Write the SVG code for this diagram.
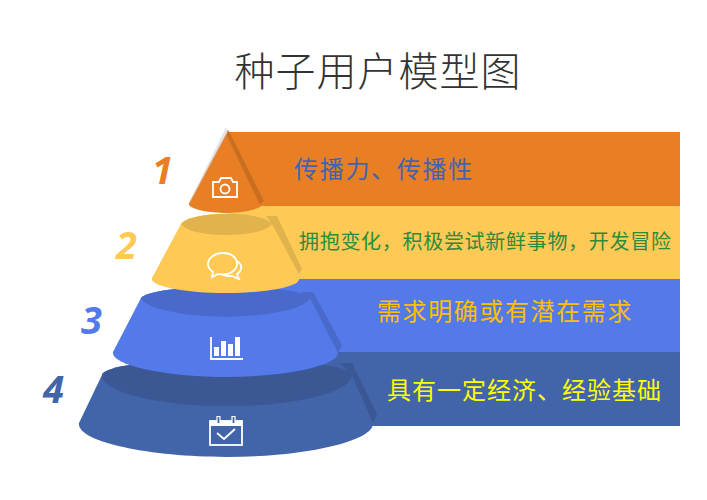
<svg xmlns="http://www.w3.org/2000/svg" width="707" height="500" viewBox="0 0 707 500">
<style>
.cjk{font-family:"Noto Sans CJK SC","Liberation Sans",sans-serif;font-weight:400}
.num{font-family:"Open Sans","Liberation Sans",sans-serif;font-weight:700;font-style:italic;font-size:38px}
.ic{fill:none;stroke:#fff;stroke-width:1.8}
</style>
<rect width="707" height="500" fill="#fff"/>
<text class="cjk" x="378" y="86" text-anchor="middle" font-size="40" letter-spacing="1" style="font-weight:300" fill="#333">种子用户模型图</text>
<g id="band-1"><rect x="228" y="132" width="452" height="74" fill="#E97F24"/><text class="cjk" x="294" y="178" font-size="24" letter-spacing="1.7" fill="#4264B0">传播力、传播性</text></g>
<g id="band-2"><rect x="228" y="206" width="452" height="73" fill="#FEC955"/><text class="cjk" x="299" y="249" font-size="20" letter-spacing=".7" fill="#2E8B3A">拥抱变化，积极尝试新鲜事物，开发冒险</text></g>
<g id="band-3"><rect x="260" y="279" width="420" height="73" fill="#5479E8"/><text class="cjk" x="377" y="320" font-size="24" letter-spacing="1.6" fill="#FFC000">需求明确或有潜在需求</text></g>
<g id="band-4"><rect x="300" y="352" width="380" height="74" fill="#4264A9"/><text class="cjk" x="387" y="399" font-size="24" letter-spacing="1" fill="#FFFF00">具有一定经济、经验基础</text></g>

<g id="tier-4">
<path d="M79 423L102 375A125 16 0 0 1 352 375L373 422C376 442 300 457 226 457C150 457 76 442 79 423Z" fill="#4264A9"/>
<path d="M102 375A125 16 0 0 1 352 375A125 31 0 0 1 102 375Z" fill="#3B5794"/>
<path d="M340 363H352L377 414L373 423L352 375Z" fill="#3B5794"/>
<g class="ic"><rect x="210" y="421" width="32" height="24"/><path d="M210 423.500h32" stroke-width="5"/><path fill="#4264A9" d="M217 416.500h3v7h-3zM232 416.500h3v7h-3z" stroke-width="1.200"/><path d="M217 433l7 6 11-10"/></g>
</g>
<g id="num-4"><text class="num" x="43" y="403" fill="#4264A9">4</text></g>

<g id="tier-3">
<path d="M113 352L141 298A85 13 0 0 1 310 298L338 352C340 366 282 377 226 377C170 377 111 366 113 352Z" fill="#5479E8"/>
<path d="M141 298A85 13 0 0 1 310 298A85 21 0 0 1 141 298Z" fill="#4A6ACB"/>
<path d="M300 292H313L342 345L338 353L310 298Z" fill="#4A6ACB"/>
<path class="ic" d="M211 337v22h32"/><path fill="#fff" d="M214 347h5v9h-5zM221 341h5v15h-5zM228 344h5v12h-5zM235 337h5v19h-5z"/>
</g>
<g id="num-3"><text class="num" x="81" y="334" fill="#5479E8">3</text></g>

<g id="tier-2">
<path d="M152 278L181 224A46 12 0 0 1 272 224L299 278C302 286 268 293 226 293C184 293 149 286 152 278Z" fill="#FEC955"/>
<path d="M181 224A46 12 0 0 1 272 224A46 13 0 0 1 181 224Z" fill="#E1B34C"/>
<path d="M266 216H277L302 269L299 274L272 224Z" fill="#E1B34C"/>
<g class="ic"><path d="M223 253c-8 0-15 5-15 11 0 3 2 6 5 8l-1 5 6-3c2 .5 3 .5 5 .5 8 0 14-5 14-11s-6-10.500-14-10.500Z"/><path d="M237 261c3 2 5 5 4 8-.5 2-2 4-4 5l2 5-7-3c-3 .5-6 0-9-1"/></g>
</g>
<g id="num-2"><text class="num" x="116" y="259" fill="#FEC955">2</text></g>

<g id="tier-1">
<path d="M228 130L189 203C187 209 208 213 227 213C246 213 265 208 262 203L228 130Z" fill="#E97F24"/>
<path d="M226 127L228 132L190 203L189 203Z" fill="#ccc" opacity=".5"/>
<path d="M228 129L264 201L260 205L227 136Z" fill="#000" opacity=".13"/>
<g class="ic"><path d="M213 197V182H219L221 178H231L233 182H237V197Z"/><circle cx="225" cy="189" r="4.500"/></g>
</g>
<g id="num-1"><text class="num" x="152" y="184" fill="#E97F24">1</text></g>
</svg>
